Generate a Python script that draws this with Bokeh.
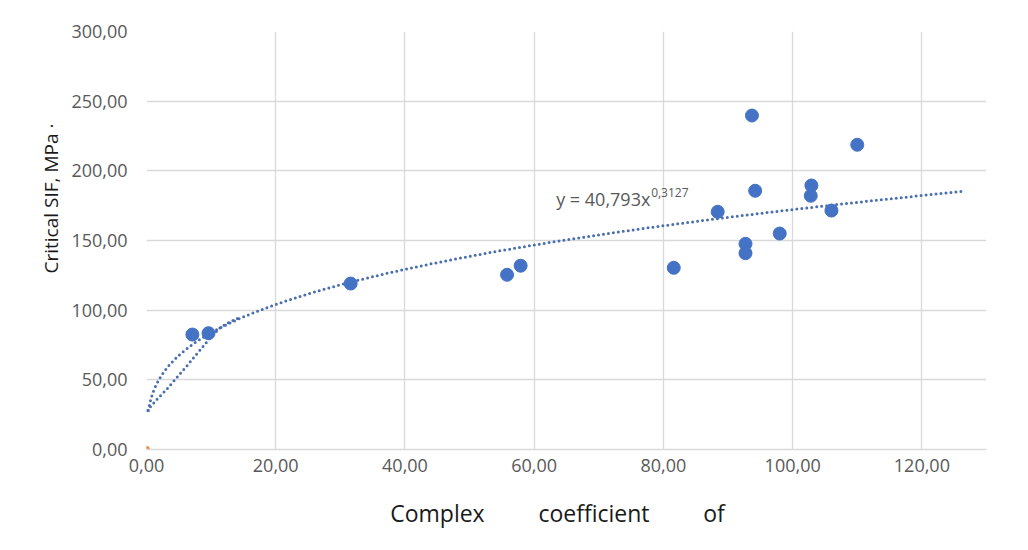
import numpy as np
from bokeh.plotting import figure
from bokeh.models import Range1d, FixedTicker, Label
from bokeh.embed import file_html
from bokeh.resources import INLINE

# ---- data ----
x_vals = [7.1, 9.6, 31.6, 55.8, 57.9, 81.6, 88.4, 92.7, 92.7, 93.7, 94.2, 98.0, 102.8, 102.9, 106.0, 110.0]
y_vals = [82.5, 83.5, 119.1, 125.4, 131.9, 130.4, 170.6, 147.6, 140.9, 239.7, 185.7, 155.0, 182.1, 189.5, 171.5, 218.7]

origin_x = [0.0]
origin_y = [0.0]

# power trendline shown on the chart: y = 40,793 x^0,3127
trend_a = 40.793
trend_b = 0.3127
trend_x_start = 0.3
trend_x_end = 126.2

lower_x = [0.1, 1.7, 3.2, 4.75, 6.3, 7.8, 9.1, 10.2, 11.5, 12.5, 14.5]
lower_y = [28.0, 36.4, 43.6, 51.9, 60.3, 68.7, 75.9, 81.8, 87.8, 90.6, 95.0]

x_ticks = [0, 20, 40, 60, 80, 100, 120]
x_tick_labels = ["0,00", "20,00", "40,00", "60,00", "80,00", "100,00", "120,00"]
y_ticks = [0, 50, 100, 150, 200, 250, 300]
y_tick_labels = ["0,00", "50,00", "100,00", "150,00", "200,00", "250,00", "300,00"]

equation_main = "y = 40,793x"
equation_exp = "0,3127"
NB = "\u00a0"
x_title = "Complex" + NB * 9 + "coefficient" + NB * 9 + "of" + NB * 3
y_title = NB * 17 + "Critical SIF, MPa ·"

FONT = "Open Sans"
GRID = "#d9d9d9"
LABEL = "#595959"

p = figure(width=1020, height=542, output_backend="svg", toolbar_location=None,
           x_range=Range1d(0, 130), y_range=Range1d(0, 300),
           min_border_left=146, min_border_right=34, min_border_top=31, min_border_bottom=93)
p.outline_line_color = None
p.background_fill_color = "white"
p.border_fill_color = "white"

# grids
p.xgrid.ticker = FixedTicker(ticks=x_ticks)
p.ygrid.ticker = FixedTicker(ticks=y_ticks)
for g in (p.xgrid, p.ygrid):
    g.grid_line_color = GRID
    g.grid_line_width = 1.3

# axes
p.xaxis.ticker = FixedTicker(ticks=x_ticks)
p.yaxis.ticker = FixedTicker(ticks=y_ticks)
p.xaxis.major_label_overrides = {t: l for t, l in zip(x_ticks, x_tick_labels)}
p.yaxis.major_label_overrides = {t: l for t, l in zip(y_ticks, y_tick_labels)}
for ax in (p.xaxis[0], p.yaxis[0]):
    ax.major_tick_line_color = None
    ax.minor_tick_line_color = None
    ax.major_tick_out = 0
    ax.major_tick_in = 0
    ax.major_label_text_font = FONT
    ax.major_label_text_font_size = "18px"
    ax.major_label_text_color = LABEL
    ax.axis_label_text_font = FONT
    ax.axis_label_text_font_style = "normal"
    ax.axis_label_text_color = "#1a1a1a"
p.xaxis.axis_line_color = GRID
p.xaxis.axis_line_width = 1.3
p.yaxis.axis_line_color = None
p.yaxis.major_label_standoff = 19
p.xaxis.major_label_standoff = 9

p.xaxis.axis_label = x_title
p.xaxis.axis_label_text_font_size = "23px"
p.xaxis.axis_label_standoff = 22

p.yaxis.axis_label = y_title
p.yaxis.axis_label_text_font_size = "19px"
p.yaxis.axis_label_standoff = 4

# trend curves
tx = np.geomspace(trend_x_start, trend_x_end, 400)
ty = trend_a * tx ** trend_b
TREND = "#4a6fae"
p.line(lower_x, lower_y, line_color=TREND, line_width=3, line_dash="0 5", line_cap="round")
p.line(tx, ty, line_color=TREND, line_width=3, line_dash="0 5", line_cap="round")

# points
p.scatter(x_vals, y_vals, size=13, color="#4472C4")
p.scatter(origin_x, origin_y, size=6, color="#ED7D31")

# equation text
p.add_layout(Label(x=63.4, y=180.1, text=equation_main, text_baseline="alphabetic",
                   text_font=FONT, text_font_size="18px", text_color=LABEL))
p.add_layout(Label(x=78.1, y=184.5, text=equation_exp, text_baseline="alphabetic",
                   text_font=FONT, text_font_size="12px", text_color=LABEL))

open("out.html", "w").write(file_html(p, INLINE))
